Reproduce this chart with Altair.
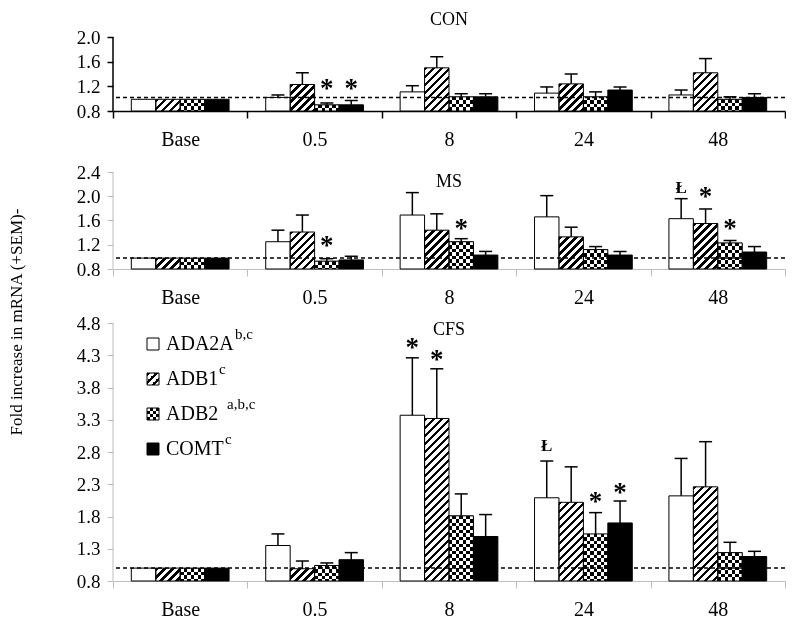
import altair as alt

FONT = "Liberation Serif"

times = ["Base", "0.5", "8", "24", "48"]
genes = ["ADA2A", "ADB1", "ADB2", "COMT"]
gene_sup = ["b,c", "c", "a,b,c", "c"]

# ---- CON panel ----
con_mean = {
    "ADA2A": [0.99, 1.02, 1.11, 1.09, 1.06],
    "ADB1":  [0.99, 1.23, 1.50, 1.24, 1.42],
    "ADB2":  [0.99, 0.90, 1.03, 1.03, 0.99],
    "COMT":  [0.99, 0.90, 1.03, 1.14, 1.02],
}
con_err = {
    "ADA2A": [None, 1.06, 1.21, 1.19, 1.14],
    "ADB1":  [None, 1.42, 1.68, 1.40, 1.65],
    "ADB2":  [None, 0.93, 1.08, 1.11, 1.03],
    "COMT":  [None, 0.97, 1.08, 1.19, 1.08],
}
con_marks = [("0.5", "ADB2", "*", 1.22), ("0.5", "COMT", "*", 1.22)]

# ---- MS panel ----
ms_mean = {
    "ADA2A": [0.98, 1.25, 1.69, 1.66, 1.63],
    "ADB1":  [0.98, 1.41, 1.44, 1.33, 1.55],
    "ADB2":  [0.98, 0.93, 1.25, 1.12, 1.23],
    "COMT":  [0.98, 0.95, 1.03, 1.03, 1.08],
}
ms_err = {
    "ADA2A": [None, 1.44, 2.06, 2.01, 1.96],
    "ADB1":  [None, 1.69, 1.71, 1.49, 1.79],
    "ADB2":  [None, 0.97, 1.30, 1.17, 1.27],
    "COMT":  [None, 1.01, 1.09, 1.09, 1.17],
}
ms_marks = [("0.5", "ADB2", "*", 1.25), ("8", "ADB2", "*", 1.52),
            ("48", "ADA2A", "Ł", 2.16), ("48", "ADB1", "*", 2.06),
            ("48", "ADB2", "*", 1.52)]

# ---- CFS panel ----
cfs_mean = {
    "ADA2A": [1.00, 1.35, 3.37, 2.09, 2.12],
    "ADB1":  [1.00, 0.99, 3.32, 2.02, 2.26],
    "ADB2":  [1.00, 1.04, 1.81, 1.53, 1.24],
    "COMT":  [1.00, 1.13, 1.49, 1.70, 1.18],
}
cfs_err = {
    "ADA2A": [None, 1.53, 4.26, 2.66, 2.70],
    "ADB1":  [None, 1.11, 4.09, 2.57, 2.96],
    "ADB2":  [None, 1.08, 2.15, 1.86, 1.40],
    "COMT":  [None, 1.24, 1.83, 2.04, 1.26],
}
cfs_marks = [("8", "ADA2A", "*", 4.48), ("8", "ADB1", "*", 4.29),
             ("24", "ADA2A", "Ł", 2.91), ("24", "ADB2", "*", 2.09),
             ("24", "COMT", "*", 2.23)]

ref_levels = [1.02, 0.98, 1.00]
con_ticks = [0.8, 1.2, 1.6, 2.0]
ms_ticks = [0.8, 1.2, 1.6, 2.0, 2.4]
cfs_ticks = [0.8, 1.3, 1.8, 2.3, 2.8, 3.3, 3.8, 4.3, 4.8]
y_title = "Fold increase in mRNA (+SEM)-"

# ---------------- layout / style ----------------
W = 672
OFF_PAD = 0.75
BAR_W = W / len(times) / (len(genes) + 2 * OFF_PAD)
YMIN = 0.8
GRAY = "#bdbdbd"


def stripes(n, first="black"):
    other = "white" if first == "black" else "black"
    stops, k = [], 0
    while k < n:
        a = min(k / n, 1.0)
        b = min((k + 1) / n, 1.0)
        col = first if k % 2 == 0 else other
        stops += [{"offset": a, "color": col}, {"offset": b, "color": col}]
        k += 1
    return stops


def hatch(w, h, period=8.0, frac=0.45):
    s = w * w + h * h
    n = (w + h) / period
    stops, k = [], 0
    while k < n:
        a = k / n
        m = min((k + frac) / n, 1.0)
        b = min((k + 1) / n, 1.0)
        stops += [{"offset": a, "color": "black"}, {"offset": m, "color": "black"},
                  {"offset": m, "color": "white"}, {"offset": b, "color": "white"}]
        k += 1
    return {"gradient": "linear", "x1": 0, "y1": 0,
            "x2": w * (w + h) / s, "y2": h * (w + h) / s, "stops": stops}


def checker_v(cells):
    return {"gradient": "linear", "x1": 0, "y1": 0, "x2": 1, "y2": 0,
            "stops": stripes(cells)}


def checker_h(w, h, cells):
    cell = w / cells
    return {"gradient": "linear", "x1": 0, "y1": 0, "x2": 0, "y2": 1,
            "stops": stripes(h / cell, first="white")}


def fills(g, w, h, cells):
    if g == "ADA2A":
        return "white", None
    if g == "ADB1":
        return hatch(w, h), None
    if g == "ADB2":
        return checker_v(cells), checker_h(w, h, cells)
    return "black", None


def make_panel(name, means, errs, marks, ref, ytop, yticks, h_axis, extra_top,
               axis_color, axis_w, title_y, extra_layers=()):
    ppu = h_axis / (ytop - YMIN)
    dmax = ytop + extra_top / ppu
    H = h_axis + extra_top
    rows, erows = [], []
    for g in genes:
        for i, t in enumerate(times):
            v = means[g][i]
            f1, f2 = fills(g, BAR_W, (v - YMIN) * ppu, 7)
            rows.append({"time": t, "gene": g, "mean": v, "fill1": f1, "fill2": f2})
            if errs[g][i] is not None:
                erows.append({"time": t, "gene": g, "mean": v, "err": errs[g][i]})
    nrows = [{"time": t, "gene": g, "sym": s, "pos": p} for (t, g, s, p) in marks]

    xaxis = alt.Axis(title=None, labelFont=FONT, labelFontSize=20, labelColor="black",
                     labelAngle=0, labelPadding=11, tickBand="extent", tickSize=7,
                     tickColor=axis_color, tickWidth=axis_w, domainColor=axis_color,
                     domainWidth=axis_w)
    X = alt.X("time:N", sort=times, scale=alt.Scale(paddingInner=0, paddingOuter=0), axis=xaxis)
    XO = alt.XOffset("gene:N", sort=genes,
                     scale=alt.Scale(paddingInner=0, paddingOuter=OFF_PAD))
    ysc = alt.Scale(domain=[YMIN, dmax], nice=False, zero=False)
    yax = alt.Axis(title=None, values=yticks, format=".1f", labelFont=FONT,
                   labelFontSize=19, labelColor="black", labelPadding=7, tickSize=6,
                   tickColor=axis_color, tickWidth=axis_w, domain=False, grid=False)

    def Y(f):
        return alt.Y(f, scale=ysc, axis=yax, stack=None)

    D = alt.Data(values=rows)
    E = alt.Data(values=erows)
    N = alt.Data(values=nrows)

    yline = alt.Chart(alt.Data(values=[{"a": YMIN, "b": ytop}])).mark_rule(
        color=axis_color, strokeWidth=axis_w).encode(
        x=alt.value(0), y=Y("a:Q"), y2="b:Q")
    bars1 = alt.Chart(D).mark_bar().encode(
        x=X, xOffset=XO, y=Y("mean:Q"), y2=alt.Y2(datum=YMIN),
        fill=alt.Fill("fill1:N", scale=None))
    bars2 = alt.Chart(D).transform_filter(alt.datum.gene == "ADB2").mark_bar(
        blend="difference").encode(
        x=X, xOffset=XO, y=Y("mean:Q"), y2=alt.Y2(datum=YMIN),
        fill=alt.Fill("fill2:N", scale=None))
    outline = alt.Chart(D).mark_bar(fillOpacity=0, stroke="black", strokeWidth=1).encode(
        x=X, xOffset=XO, y=Y("mean:Q"), y2=alt.Y2(datum=YMIN))
    refl = alt.Chart(alt.Data(values=[{"ref": ref}])).mark_rule(
        color="black", strokeDash=[4, 3], strokeWidth=1.5).encode(y=Y("ref:Q"))
    errl = alt.Chart(E).mark_rule(color="black", strokeWidth=1.5).encode(
        x=X, xOffset=XO, y=Y("mean:Q"), y2="err:Q")
    cap = alt.Chart(E).mark_tick(color="black", thickness=1.5, size=13,
                                 orient="horizontal", opacity=1).encode(
        x=X, xOffset=XO, y=Y("err:Q"))
    stars = alt.Chart(N).transform_filter(alt.datum.sym == "*").mark_text(
        font=FONT, fontSize=27, fontWeight="bold", baseline="alphabetic", dy=12,
        color="black").encode(x=X, xOffset=XO, y=Y("pos:Q"), text="sym:N")
    lsl = alt.Chart(N).transform_filter(alt.datum.sym != "*").mark_text(
        font=FONT, fontSize=17, fontWeight="bold", baseline="alphabetic", dy=6,
        color="black").encode(x=X, xOffset=XO, y=Y("pos:Q"), text="sym:N")
    title = alt.Chart(alt.Data(values=[{"t": name}])).mark_text(
        font=FONT, fontSize=18, baseline="middle", color="black").encode(
        text="t:N", x=alt.value(W / 2), y=alt.value(title_y))
    layers = [yline, bars1, bars2, outline, refl, errl, cap, stars, lsl, title]
    layers += list(extra_layers)
    return alt.layer(*layers).properties(width=W, height=H)


# ---- legend (inside CFS panel) ----
leg_rows = []
leg_sup_x = [122, 106, 114, 112]
for i, g in enumerate(genes):
    f1, f2 = fills(g, 12, 12, 4)
    ly = 21 + 35 * i
    leg_rows.append({"gene": g, "ly": ly, "fill1": f1, "fill2": f2,
                     "sup": gene_sup[i], "supx": leg_sup_x[i], "supy": ly - 10})
L = alt.Data(values=leg_rows)
LY = alt.Y("ly:Q", scale=None, axis=None)
leg_sq1 = alt.Chart(L).mark_square(size=144, opacity=1, strokeWidth=0).encode(
    x=alt.value(40), y=LY, fill=alt.Fill("fill1:N", scale=None))
leg_sq2 = alt.Chart(L).transform_filter(alt.datum.gene == "ADB2").mark_square(
    size=144, opacity=1, strokeWidth=0, blend="difference").encode(
    x=alt.value(40), y=LY, fill=alt.Fill("fill2:N", scale=None))
leg_sq3 = alt.Chart(L).mark_square(size=144, opacity=1, fillOpacity=0, stroke="black",
                                   strokeWidth=1).encode(x=alt.value(40), y=LY)
leg_txt = alt.Chart(L).mark_text(font=FONT, fontSize=20, align="left", baseline="middle",
                                 color="black").encode(x=alt.value(53), y=LY, text="gene:N")
leg_sup = alt.Chart(L).mark_text(font=FONT, fontSize=15, align="left", baseline="middle",
                                 color="black").encode(
    x=alt.X("supx:Q", scale=None, axis=None), y=alt.Y("supy:Q", scale=None, axis=None),
    text="sup:N")

ytitle = alt.Chart(alt.Data(values=[{"t": y_title}])).mark_text(
    font=FONT, fontSize=17, angle=270, baseline="middle", color="black").encode(
    text="t:N", x=alt.value(-96), y=alt.value(157))

p1 = make_panel("CON", con_mean, con_err, con_marks, ref_levels[0], 2.0, con_ticks,
                74, 0, "black", 1.5, -17)
p2 = make_panel("MS", ms_mean, ms_err, ms_marks, ref_levels[1], 2.4, ms_ticks,
                97, 7, GRAY, 1, 17, extra_layers=[ytitle])
p3 = make_panel("CFS", cfs_mean, cfs_err, cfs_marks, ref_levels[2], 4.8, cfs_ticks,
                258, 0, GRAY, 1, 7,
                extra_layers=[leg_sq1, leg_sq2, leg_sq3, leg_txt, leg_sup])

chart = alt.vconcat(p1, p2, p3, spacing=54, bounds="flush").properties(
    padding={"left": 0, "top": 3, "right": 0, "bottom": 0}
).configure_view(stroke=None)

chart.save("out.html", embed_options={"renderer": "svg", "actions": False})
